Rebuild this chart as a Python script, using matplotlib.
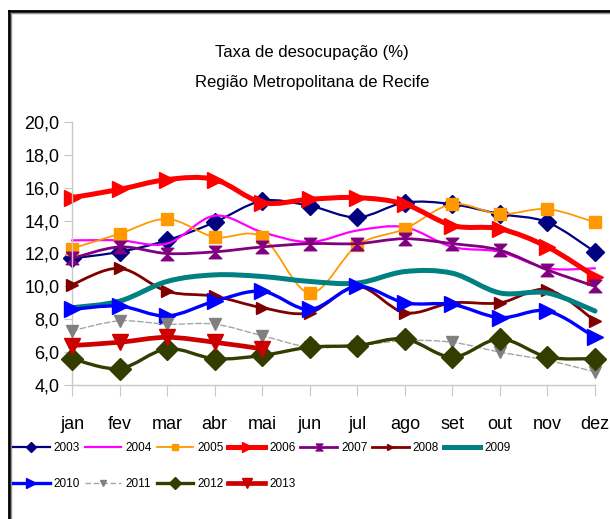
import numpy as np
import matplotlib
matplotlib.use('Agg')
import matplotlib.pyplot as plt
from matplotlib.path import Path
from matplotlib.patches import PathPatch
from matplotlib.lines import Line2D
from matplotlib.ticker import FuncFormatter

months = ['jan', 'fev', 'mar', 'abr', 'mai', 'jun',
          'jul', 'ago', 'set', 'out', 'nov', 'dez']

v2003 = [11.7, 12.1, 12.8, 13.9, 15.2, 14.9, 14.2, 15.1, 15.0, 14.4, 13.9, 12.1]
v2004 = [12.8, 12.8, 12.6, 14.3, 13.3, 12.7, 13.4, 13.6, 12.4, 12.1, 11.1, 11.1]
v2005 = [12.3, 13.2, 14.1, 13.0, 13.0, 9.6, 12.5, 13.5, 15.0, 14.4, 14.7, 13.9]
v2006 = [15.4, 15.9, 16.5, 16.5, 15.1, 15.3, 15.4, 15.0, 13.7, 13.5, 12.4, 10.6]
v2007 = [11.7, 12.4, 12.0, 12.1, 12.4, 12.6, 12.6, 12.9, 12.6, 12.2, 11.0, 10.0]
v2008 = [10.1, 11.1, 9.7, 9.4, 8.7, 8.4, 10.0, 8.4, 9.0, 9.0, 9.8, 7.9]
v2009 = [8.7, 9.1, 10.3, 10.7, 10.6, 10.3, 10.2, 10.9, 10.8, 9.6, 9.6, 8.5]
v2010 = [8.6, 8.8, 8.2, 9.1, 9.7, 8.6, 10.0, 9.0, 8.9, 8.1, 8.5, 6.9]
v2011 = [7.3, 7.9, 7.7, 7.7, 7.0, 6.3, 6.4, 6.7, 6.6, 6.0, 5.5, 4.8]
v2012 = [5.6, 5.0, 6.2, 5.6, 5.8, 6.3, 6.4, 6.8, 5.7, 6.8, 5.7, 5.6]
v2013 = [6.4, 6.6, 6.9, 6.6, 6.2]

years = ['2003', '2004', '2005', '2006', '2007', '2008',
         '2009', '2010', '2011', '2012', '2013']
values = [v2003, v2004, v2005, v2006, v2007, v2008,
          v2009, v2010, v2011, v2012, v2013]

# hourglass marker used by excel for 2007
hourglass = Path([(-1, 1), (1, 1), (0, 0), (1, -1), (-1, -1), (0, 0), (-1, 1)])

# color, line width, line style, marker, marker size
styles = [
    ('#000080', 1.6, '-', 'D', 9),
    ('#ff00ff', 1.6, '-', None, 0),
    ('#ff9900', 1.3, '-', 's', 8),
    ('#ff0000', 3.6, '-', '>', 12),
    ('#800080', 2.0, '-', hourglass, 9),
    ('#800000', 2.0, '-', '>', 9),
    ('#008080', 3.6, '-', None, 0),
    ('#0000ff', 2.4, '-', '>', 12),
    ('#a6a6a6', 1.0, (0, (4, 2)), 'v', 8),
    ('#333d00', 2.4, '-', 'D', 11),
    ('#cc0000', 3.4, '-', 'v', 12),
]
marker_colors = {8: '#808080'}


def smooth_path(x, y, t=1/6):
    # excel-like smoothed line: cubic bezier through the points
    pts = np.column_stack([x, y]).astype(float)
    n = len(pts)
    verts = [pts[0]]
    codes = [Path.MOVETO]
    for i in range(n - 1):
        p0 = pts[i - 1] if i > 0 else pts[i]
        p1 = pts[i]
        p2 = pts[i + 1]
        p3 = pts[i + 2] if i + 2 < n else pts[i + 1]
        c1 = p1 + (p2 - p0) * t
        c2 = p2 - (p3 - p1) * t
        verts += [c1, c2, p2]
        codes += [Path.CURVE4] * 3
    return Path(verts, codes)


plt.rcParams['font.family'] = ['Liberation Sans', 'DejaVu Sans']

fig = plt.figure(figsize=(6.1, 5.19), dpi=100)
W, H = 610, 519
ax = fig.add_axes([72 / W, 1 - 385 / H, (595 - 72) / W, (385 - 122) / H])

handles = []
for i, (yr, vals) in enumerate(zip(years, values)):
    color, lw, ls, mk, ms = styles[i]
    x = np.arange(len(vals))
    z = 2 + i * 0.1
    patch = PathPatch(smooth_path(x, vals), facecolor='none', edgecolor=color,
                      lw=lw, linestyle=ls, joinstyle='round', capstyle='round',
                      clip_on=False, zorder=z)
    ax.add_patch(patch)
    mc = marker_colors.get(i, color)
    if mk is not None:
        ax.plot(x, vals, ls='none', marker=mk, ms=ms, color=mc, mec=mc,
                clip_on=False, zorder=z + 0.05)
    handles.append(Line2D([], [], color=color, lw=lw, ls=ls, marker=mk,
                          ms=ms * 0.55, mfc=mc, mec=mc))

ax.set_xlim(0, 11)
ax.set_ylim(4, 20)
ax.set_xticks(range(12))
ax.set_xticklabels(months)
ax.set_yticks(np.arange(4, 21, 2))
ax.yaxis.set_major_formatter(FuncFormatter(lambda v, p: f'{v:.1f}'.replace('.', ',')))
ax.tick_params(axis='x', length=8, color='#c8c8c8', pad=14, labelsize=13)
ax.tick_params(axis='y', length=6, color='#c8c8c8', pad=3, labelsize=13)
for s in ['top', 'right']:
    ax.spines[s].set_visible(False)
for s in ['left', 'bottom']:
    ax.spines[s].set_color('#c8c8c8')
    ax.spines[s].set_linewidth(1)

fig.text(312 / W, 1 - 52 / H, 'Taxa de desocupação (%)', ha='center', va='center', fontsize=12)
fig.text(312 / W, 1 - 83 / H, 'Região Metropolitana de Recife', ha='center', va='center', fontsize=12)

# row-major legend: reorder for matplotlib's column filling
order = [0, 7, 1, 8, 2, 9, 3, 10, 4, 5, 6]
fig.legend([handles[k] for k in order], [years[k] for k in order],
           ncol=7, loc='upper left', bbox_to_anchor=(13 / W, 1 - 442 / H),
           frameon=False, fontsize=8.5, handlelength=3.1, handletextpad=0.35,
           columnspacing=0.4, labelspacing=2.05, borderpad=0, borderaxespad=0)

# outer frame
fig.add_artist(Line2D([8.5 / W, 8.5 / W], [0, 1 - 11 / H], color='black', lw=2))
fig.add_artist(Line2D([8.5 / W, 1], [1 - 11 / H, 1 - 11 / H], color='black', lw=2))
fig.add_artist(Line2D([10.5 / W, 10.5 / W], [0, 1 - 13 / H], color='#909090', lw=1))
fig.add_artist(Line2D([10.5 / W, 1], [1 - 13 / H, 1 - 13 / H], color='#909090', lw=1))

fig.savefig('out.png', dpi=100)
